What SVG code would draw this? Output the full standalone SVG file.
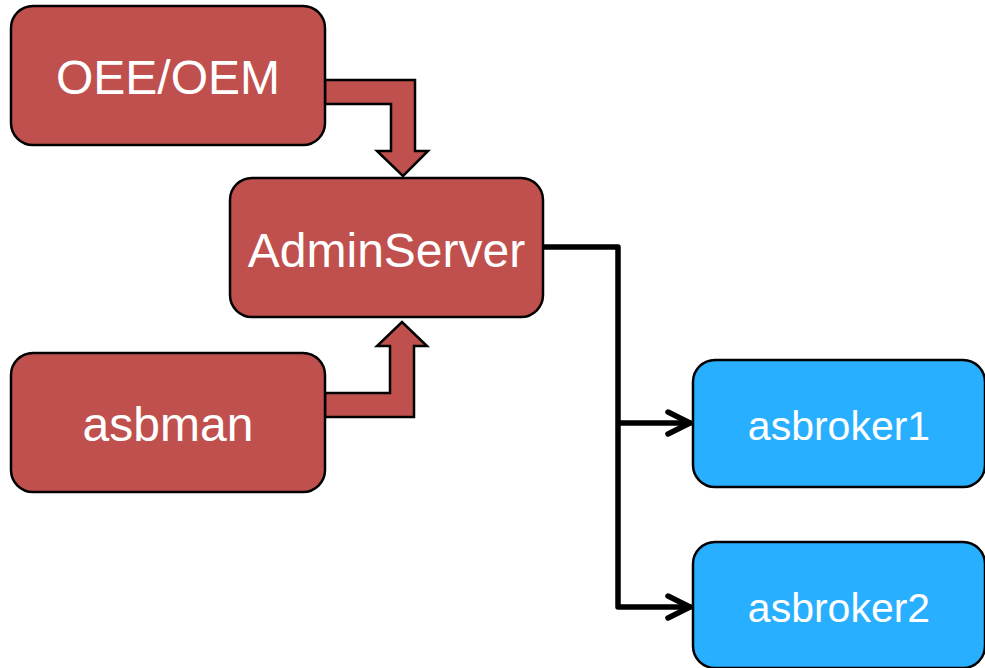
<svg xmlns="http://www.w3.org/2000/svg" width="985" height="668" viewBox="0 0 985 668">
<style>
.red{fill:#C0504D;stroke:#000;stroke-width:2.5}
.blue{fill:#29AFFF;stroke:#000;stroke-width:2.5}
.lbl{fill:#fff;font-family:"Liberation Sans",Arial,sans-serif;text-anchor:middle}
.big{font-size:48px}
.small{font-size:41px}
.blk{fill:#C0504D;stroke:#000;stroke-width:2.5;stroke-linejoin:miter}
.conn{fill:none;stroke:#000;stroke-width:5.5;stroke-linecap:round;stroke-linejoin:round}
</style>
<rect width="985" height="668" fill="#fff"/>
<g id="connectors">
<polygon class="blk" points="325,80 415,80 415,151 428,151 403,176 377,151 391,151 391,104 325,104"/>
<polygon class="blk" points="325,393 390,393 390,346 377,346 402,322 427,346 414,346 414,417 325,417"/>
<path class="conn" d="M543,247 H618 V607 H690 M618,423 H690"/>
<polyline class="conn" points="668,412 690,423 668,434"/>
<polyline class="conn" points="668,596 690,607 668,618"/>
</g>
<g id="oee">
<rect class="red" x="11" y="6" width="314" height="139" rx="22"/>
<text class="lbl big" x="168" y="94">OEE/OEM</text>
</g>
<g id="adminserver">
<rect class="red" x="230" y="178" width="313" height="139" rx="22"/>
<text class="lbl big" x="386.500" y="267">AdminServer</text>
</g>
<g id="asbman">
<rect class="red" x="11" y="353" width="314" height="139" rx="22"/>
<text class="lbl big" x="168" y="441">asbman</text>
</g>
<g id="asbroker1">
<rect class="blue" x="693" y="360" width="292" height="127" rx="22"/>
<text class="lbl small" x="839" y="440">asbroker1</text>
</g>
<g id="asbroker2">
<rect class="blue" x="693" y="542" width="292" height="126" rx="22"/>
<text class="lbl small" x="839" y="622">asbroker2</text>
</g>
</svg>
